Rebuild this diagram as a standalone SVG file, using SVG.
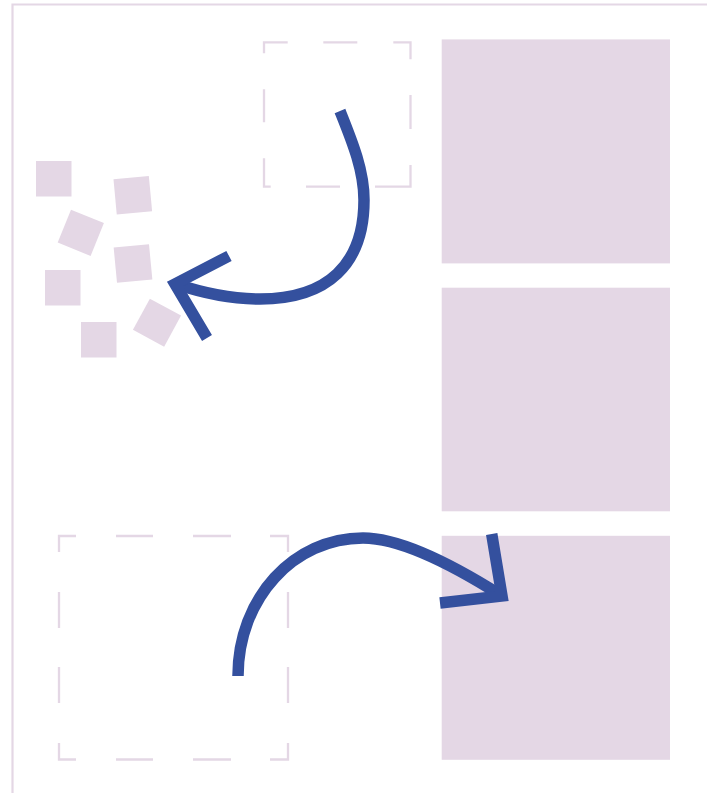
<svg xmlns="http://www.w3.org/2000/svg" width="707" height="793" viewBox="0 0 707 793">
<style>
.fill{fill:#e4d7e5}
.dash{fill:none;stroke:#e4d7e5;stroke-width:2.3;stroke-linecap:butt;stroke-linejoin:miter}
.arrow{fill:none;stroke:#34509e;stroke-width:11.5;stroke-linecap:butt;stroke-linejoin:miter;stroke-miterlimit:10}
</style>
<rect width="707" height="793" fill="#ffffff"/>
<path id="frame" d="M12.5,793 V4.5 H707" fill="none" stroke="#e4d7e5" stroke-width="2.2"/>
<g id="panel-top"><rect class="fill" x="441.7" y="39.4" width="228.3" height="224"/></g>
<g id="panel-middle"><rect class="fill" x="441.7" y="287.7" width="228.3" height="223.6"/></g>
<g id="panel-bottom"><rect class="fill" x="441.7" y="535.8" width="228.3" height="224"/></g>
<g id="placeholder-top"><path class="dash" d="M264,53.3 V42.3 H287.7 M323.3,42.3 H357.3 M393.3,42.3 H410.5 V59.3 M410.5,95 V129 M410.5,165 V186.7 H375 M340,186.7 H306 M270.7,186.7 H264 V158.3 M264,122.3 V89.3"/></g>
<g id="placeholder-bottom"><path class="dash" d="M59,552 V536 H76 M116,536 H153 M193,536 H231 M270,536 H288 V552 M288,592 V628 M288,667 V703 M288,743 V759.5 H270 M231,759.5 H193 M153,759.5 H116 M76,759.5 H59 V743 M59,703 V667 M59,628 V592"/></g>
<g id="pieces">
<rect class="fill" x="36" y="161" width="35.5" height="35.5"/>
<rect class="fill" x="-17.75" y="-17.75" width="35.5" height="35.5" transform="translate(132.8,195.3) rotate(-5.3)"/>
<rect class="fill" x="-17.75" y="-17.75" width="35.5" height="35.5" transform="translate(80.8,232.8) rotate(22)"/>
<rect class="fill" x="-17.75" y="-17.75" width="35.5" height="35.5" transform="translate(133,263.5) rotate(-5.4)"/>
<rect class="fill" x="45" y="270" width="35.5" height="35.5"/>
<rect class="fill" x="-17.75" y="-17.75" width="35.5" height="35.5" transform="translate(157,322.7) rotate(28.5)"/>
<rect class="fill" x="81" y="322" width="35.5" height="35.5"/>
</g>
<g id="connectors">
<path class="arrow" d="M340,111 C352,141 364,170 364,200 C364,264.4 327.6,299 260,299 C230,299 200,292 176,284"/>
<path class="arrow" d="M229,256 L175,284 L207,338"/>
<path class="arrow" d="M238,676 C238,598 294,538 363,538 C400,538 450,563 502,596"/>
<path class="arrow" d="M491.7,534 L502,596 L440,603"/>
</g>
</svg>
